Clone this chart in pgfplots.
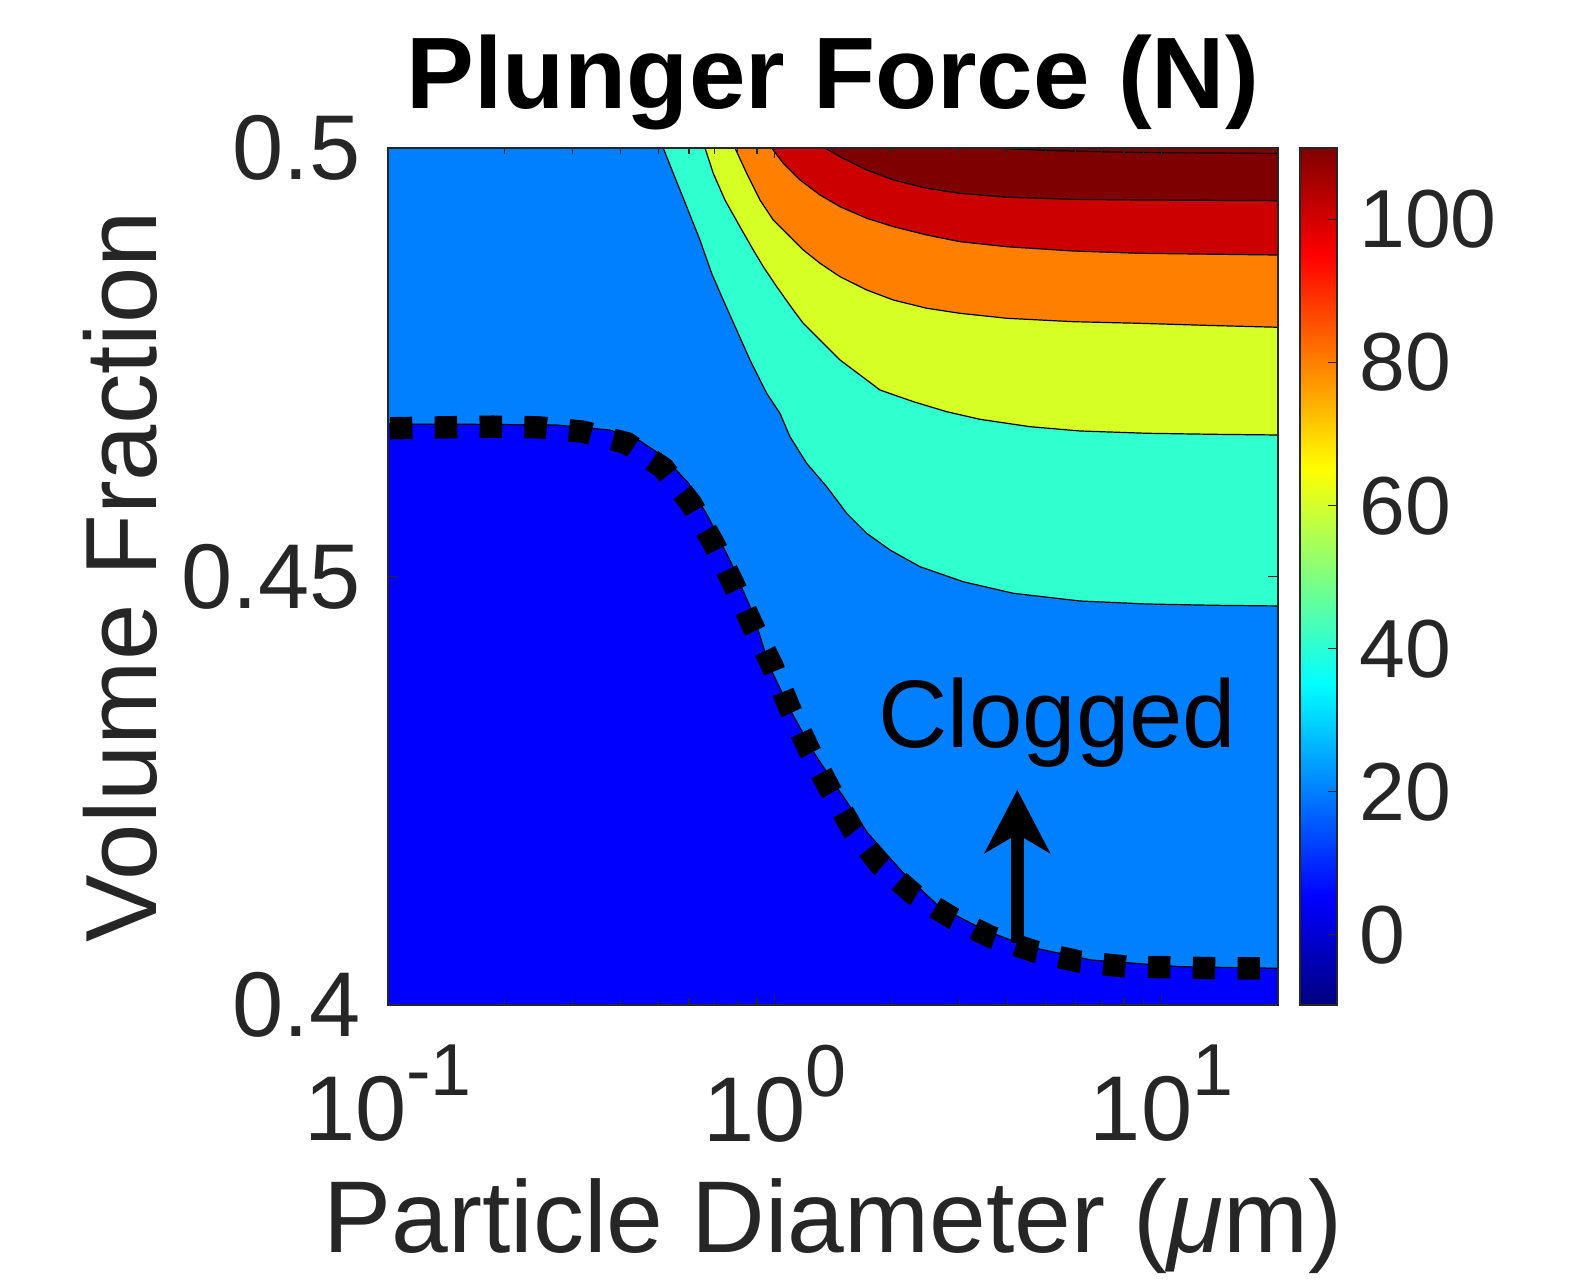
\documentclass[border=0pt]{standalone}
\usepackage{fontspec}
\setmainfont{Liberation Sans}
\usepackage{pgfplots}
\pgfplotsset{compat=1.18}
\usetikzlibrary{arrows.meta}

\definecolor{cDB}{RGB}{0,0,255}
\definecolor{cLB}{RGB}{0,128,255}
\definecolor{cCy}{RGB}{48,255,207}
\definecolor{cYe}{RGB}{214,255,38}
\definecolor{cOr}{RGB}{255,128,0}
\definecolor{cRe}{RGB}{205,0,0}
\definecolor{cDR}{RGB}{127,0,0}
\definecolor{axgray}{RGB}{38,38,38}

\newcommand{\expo}[1]{\raisebox{11.25pt}{\fontsize{18.4}{19}\selectfont #1}}

\begin{document}
\begin{tikzpicture}
\useasboundingbox (-97pt,-68.75pt) rectangle (300pt,251.25pt);
\begin{axis}[
  at={(0,0)}, anchor=south west,
  scale only axis, width=222.5pt, height=214.25pt,
  xmode=log, xmin=0.1, xmax=20, ymin=0.4, ymax=0.5,
  axis on top,
  axis background/.style={fill=cLB},
  xtick={0.1,1,10},
  xticklabels={{10\expo{-1}},{10\expo{0}},{10\expo{1}}},
  ytick={0.4,0.45,0.5}, yticklabels={0.4,0.45,0.5},
  tick align=inside,
  major tick length=2.4pt, minor tick length=1.5pt,
  every tick/.style={axgray, line width=0.3pt},
  axis line style={axgray, line width=0.4pt},
  ticklabel style={font=\fontsize{23}{25}\selectfont, text=axgray},
  xticklabel style={yshift=-6.5pt},
  yticklabel style={xshift=-3.3pt},
  title={Plunger Force (N)},
  title style={at={(axis description cs:0.5,1.0178)}, anchor=base,
    font=\fontsize{25.4}{29}\selectfont\bfseries},
  xlabel={Particle Diameter (\textit{μ}m)},
  xlabel style={at={(axis description cs:0.5,-0.2894)}, anchor=base,
    font=\fontsize{25.5}{29}\selectfont, text=axgray},
  ylabel={Volume Fraction},
  ylabel style={at={(axis description cs:-0.2596,0.5)}, anchor=base,
    font=\fontsize{25.3}{29}\selectfont, text=axgray},
  colorbar, colormap/jet, point meta min=-9.8, point meta max=110,
  colorbar style={
    at={(parent axis.north east)}, anchor=north west, xshift=-3pt,
    scale only axis, width=9.25pt, height=214.25pt,
    ytick={0,20,40,60,80,100}, yticklabels={0,20,40,60,80,100},
    ytick pos=right, yticklabel pos=right,
    tick align=inside, major tick length=2.4pt,
    every tick/.style={axgray, line width=0.3pt},
    axis line style={axgray, line width=0.4pt},
    yticklabel style={font=\fontsize{20.6}{22}\selectfont, text=axgray, xshift=2pt},
  },
]
% filled contour bands (boundaries)
\addplot[fill=cCy, draw=black, line width=0.3pt] coordinates {
(0.5147,0.5) (0.5465,0.49705) (0.5920,0.49315) (0.6406,0.48926) (0.6868,0.48538)
(0.7359,0.48226) (0.7971,0.47876) (0.8629,0.47526) (0.9530,0.47138) (1.0314,0.46904)
(1.0947,0.46631) (1.2090,0.46321) (1.3621,0.46048) (1.5346,0.45737) (1.7285,0.45504)
(1.9860,0.45309) (2.3738,0.45114) (3.0711,0.44939) (4.136,0.44804) (6.152,0.44714)
(9.152,0.44679) (13.61,0.44664) (20,0.44656) (20,0.5)};
\addplot[fill=cYe, draw=black, line width=0.3pt] coordinates {
(0.6601,0.5) (0.6934,0.49705) (0.7434,0.49393) (0.8128,0.49082) (0.8798,0.48810)
(0.9339,0.48615) (1.0114,0.48382) (1.1163,0.48110) (1.1848,0.47954) (1.3089,0.47760)
(1.4747,0.47526) (1.7285,0.47293) (1.8707,0.47176) (2.2811,0.47040) (2.7816,0.46923)
(3.3929,0.46834) (4.5677,0.46748) (6.152,0.46698) (9.152,0.46671) (13.61,0.46659)
(20,0.46651) (20,0.5)};
\addplot[fill=cOr, draw=black, line width=0.3pt] coordinates {
(0.7891,0.5) (0.8459,0.49705) (0.9156,0.49393) (0.9910,0.49160) (1.0947,0.48965)
(1.1848,0.48810) (1.3089,0.48655) (1.4747,0.48498) (1.7285,0.48343) (2.0257,0.48226)
(2.4703,0.48130) (3.0116,0.48071) (3.977,0.48013) (5.911,0.47973) (8.796,0.47954)
(13.34,0.47929) (20,0.47908) (20,0.5)};
\addplot[fill=cRe, draw=black, line width=0.3pt] coordinates {
(0.9818,0.5) (1.0520,0.49821) (1.1617,0.49627) (1.3089,0.49452) (1.4747,0.49315)
(1.7285,0.49180) (2.0257,0.49082) (2.4703,0.48985) (3.0116,0.48907) (3.977,0.48848)
(5.911,0.48798) (8.796,0.48771) (20,0.48751) (20,0.5)};
\addplot[fill=cDR, draw=black, line width=0.3pt] coordinates {
(1.3484,0.5) (1.4747,0.49898) (1.7285,0.49743) (2.0257,0.49627) (2.4703,0.49530)
(3.0116,0.49471) (3.977,0.49425) (5.911,0.49401) (8.796,0.49393) (20,0.49385) (20,0.5)};
\addplot[draw=black, line width=0.3pt] coordinates {
(3.600,0.5) (5.146,0.49971) (8.796,0.49947) (20,0.49936)};
\addplot[fill=cDB, draw=black, line width=0.3pt] coordinates {
(0.1,0.46779) (0.1600,0.46776) (0.2725,0.46768) (0.3749,0.46709) (0.4444,0.46593)
(0.5157,0.46398) (0.5987,0.46088) (0.6799,0.45659) (0.7723,0.45154) (0.8778,0.44571)
(0.9696,0.43947) (1.1079,0.43404) (1.2651,0.42937) (1.4831,0.42470) (1.7409,0.42003)
(2.1528,0.41537) (2.6627,0.41147) (3.4750,0.40875) (4.5303,0.40680) (6.569,0.40525)
(11.158,0.40447) (20,0.40428) (20,0.4) (0.1,0.4)};
% clogging threshold
\addplot[black, line width=5.6pt, dash pattern=on 5.6pt off 5.6pt] coordinates {
(0.1012,0.46729) (0.1419,0.46741) (0.1863,0.46748) (0.2434,0.46741) (0.3191,0.46690)
(0.4151,0.46554) (0.5157,0.46263) (0.6087,0.45846) (0.6947,0.45387) (0.7824,0.44912)
(0.8752,0.44434) (0.9858,0.43956) (1.0928,0.43462) (1.2250,0.42984) (1.3883,0.42517)
(1.5940,0.42042) (1.8750,0.41634) (2.2999,0.41284) (2.8840,0.41012) (3.6134,0.40797)
(4.7150,0.40622) (6.1490,0.40505) (8.128,0.40447) (10.60,0.40440) (13.82,0.40428)
(19.29,0.40428)};
\addplot[black, line width=3.3pt, -{Stealth[length=15.75pt, width=16.25pt, inset=4.7pt]}]
  coordinates {(4.236,0.4072) (4.236,0.4251)};
\node[anchor=base, font=\fontsize{24}{28}\selectfont] at (axis cs:5.38,0.4301) {Clogged};
\end{axis}
\end{tikzpicture}
\end{document}
